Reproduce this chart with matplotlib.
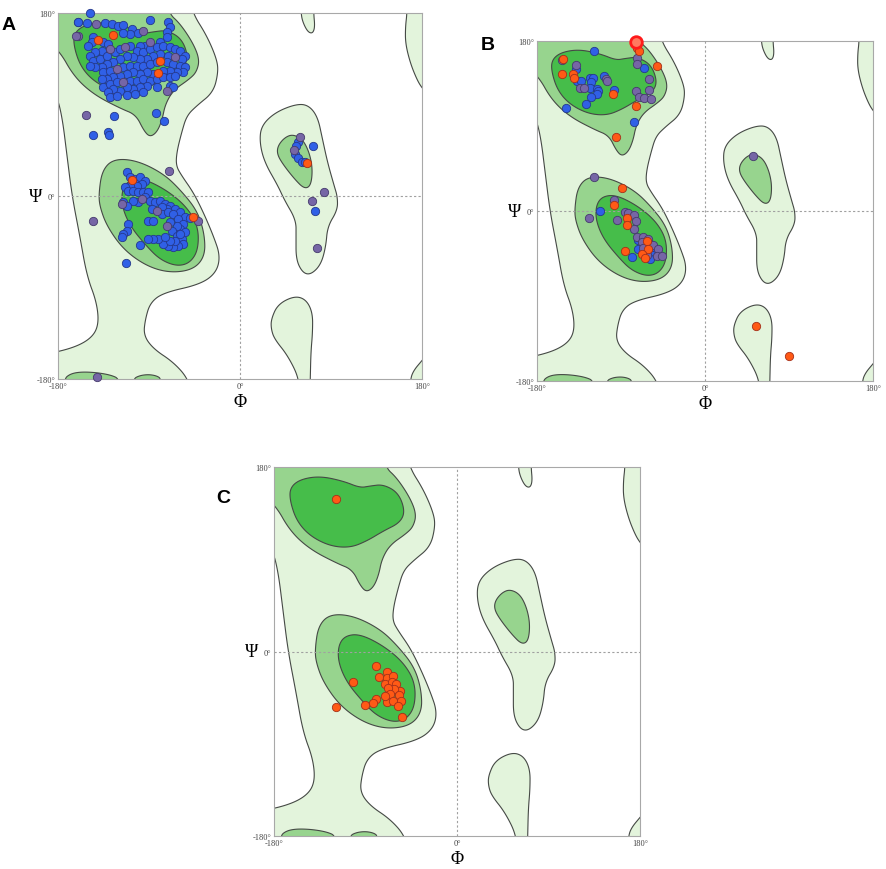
import matplotlib
matplotlib.use("Agg")
import matplotlib.pyplot as plt
import numpy as np
from matplotlib.patches import Polygon

# ---- background regions (phi, psi outlines) ----
LIGHT_MAIN = [(-200, 200), (-50, 200), (-47, 180), (-33, 158), (-23, 134.8), (-21.5, 121.7),
              (-26.4, 102), (-42.8, 88.8), (-52.7, 79), (-57.7, 62.7), (-62.6, 43), (-63.3, 29.8),
              (-57.7, 20), (-46.2, 3.6), (-36.3, -16), (-26.4, -39), (-19.5, -59), (-23.6, -75.6),
              (-39.6, -87), (-75.7, -95.1), (-88.8, -104.9), (-93.7, -121.2), (-95.4, -137),
              (-85.6, -150.4), (-65.9, -163.4), (-51.1, -180), (-47, -200), (-200, -200),
              (-200, -157), (-167.5, -150.4), (-147.8, -140.7), (-139.7, -127.3), (-141.6, -104.9),
              (-151.5, -78.5), (-158.4, -39.8), (-166.2, 0.5), (-171.1, 39.5), (-176, 78.5),
              (-182, 101), (-200, 103)]
LIGHT_LALPHA = [(20.9, 68.8), (34.1, 81.8), (53.8, 90), (66.9, 90), (76.7, 78.5), (81.6, 55.8),
                (86.6, 33), (93.1, 10.2), (96.4, -0.8), (96.4, -13.9), (86.6, -30), (84.9, -49.6),
                (80, -67.5), (70.1, -77.3), (62, -75.6), (55.4, -62.6), (55.4, -39.8), (55.4, -23.6),
                (44, -4.1), (37.4, 10.2), (24.3, 33), (19.4, 52.5)]
LIGHT_BOTTOM = [(30.8, -121.2), (37.4, -106.5), (53.8, -98.3), (65.2, -101.7), (71.8, -114.6),
                (71.8, -134.1), (70.1, -153.7), (69.5, -180), (69, -200), (58, -200), (58.7, -180),
                (47.2, -156.9), (34.1, -140.7), (30.8, -130.9)]
LIGHT_TOP = [(60, 200), (60.3, 180), (62, 171.2), (66.9, 161.5), (71.8, 159.8), (74.1, 166.3),
             (72.8, 180), (73, 200)]
LIGHT_RIGHT = [(165, 200), (165.2, 180), (163.6, 166.3), (163.6, 150), (168.5, 130.5),
               (175.1, 114.3), (180, 106.2), (190, 95), (200, 95), (200, 200)]
LIGHT_CORNER = [(168, -200), (168.5, -180), (171.8, -171.5), (180, -161.8), (190, -150),
                (200, -150), (200, -200)]

MID_BETA = [(-200, 200), (-71, 200), (-70.8, 180), (-59.3, 169.6), (-46.2, 150), (-40, 134),
            (-43, 122), (-50, 115), (-66, 104), (-74, 90), (-77, 75), (-82, 63), (-89, 58),
            (-95, 64), (-103, 80), (-118, 86), (-144.6, 99.7), (-164.3, 117.6),
            (-179, 143.6), (-200, 160)]
MID_ALPHA = [(-139.7, 2.4), (-136.4, 25.2), (-124.9, 36.6), (-102, 35), (-75.7, 22), (-58, 5),
             (-42, -15), (-35, -38), (-34.7, -59.3), (-46.2, -72.4), (-69.1, -75.6),
             (-92.2, -69.1), (-115.1, -52.9), (-131.5, -30), (-138.7, -10.5)]
MID_LALPHA = [(37.4, 49.3), (44, 57.4), (52.1, 60.7), (62, 55.8), (68.6, 42.7), (71.8, 26.5),
              (70.1, 10.2), (63.6, 7), (53.8, 16.8), (42.3, 31.4), (36.7, 41.2)]
MID_STRIP1 = [(-174, -200), (-174, -180), (-168, -175), (-158, -173), (-143, -173.5), (-128, -176),
              (-119, -180), (-119, -200)]
MID_STRIP2 = [(-106, -200), (-106, -180), (-99, -176.5), (-90, -175.5), (-82, -177), (-78, -180),
              (-78, -200)]

DARK_BETA = [(-164.3, 159.8), (-154.4, 168), (-134.8, 171.2), (-111.8, 166.3), (-95.4, 159.8),
             (-85.6, 161.5), (-72.5, 163.1), (-57.7, 154.9), (-51.1, 137.1), (-56.1, 125.7),
             (-72.5, 117.6), (-88.8, 107.8), (-105.2, 101.3), (-124.9, 102.9), (-144.6, 112.7),
             (-157.7, 127.3), (-164.3, 146.8)]
DARK_ALPHA = [(-116.8, 5.7), (-110.2, 15.4), (-95.4, 17.1), (-72.5, 5.7), (-52.8, -10.5),
              (-41.3, -30), (-41.3, -52.9), (-49.5, -65.9), (-62.7, -69.1), (-79, -62.6),
              (-92.2, -49.6), (-108.5, -30), (-116.8, -10.5)]

# ---- residues, panel A (b = blue, p = purple, r = red) ----
a_phi = [-148.3, -159.9, -151.6, -142.4, -133.5, -126.9, -120.3, -115.4, -107.1, -100.5,
         -108.8, -115.4, -125.2, -95.6, -89, -70.8, -69.2, -72.5, -72.5, -79.1,
         -89, -93.9, -98.9, -140.1, -145, -146.7, -150, -159.9, -135.1, -130.2,
         -128.5, -136.8, -143.4, -148.3, -145, -138.4, -131.8, -123.6, -118.7, -113.7,
         -108.8, -102.2, -95.6, -89, -82.4, -75.8, -69.2, -64.3, -59.3, -54.4,
         -57.7, -64.3, -70.8, -79.1, -85.7, -92.3, -98.9, -105.5, -112.1, -118.7,
         -125.2, -131.8, -136.8, -143.4, -148.3, -135.1, -128.5, -122, -115.4, -108.8,
         -102.2, -95.6, -89, -82.4, -79.1, -72.5, -65.9, -59.3, -54.4, -56,
         -62.6, -69.2, -75.8, -80.7, -85.7, -92.3, -98.9, -105.5, -112.1, -118.7,
         -125.2, -131.8, -136.8, -135.1, -128.5, -122, -115.4, -108.8, -102.2, -95.6,
         -89, -82.4, -75.8, -69.2, -64.3, -69.2, -72.5, -65.9, -82.4, -92.3,
         -98.9, -105.5, -112.1, -118.7, -125.2, -130.2, -128.5, -122, -112.1, -103.9,
         -95.6, -160.2, -161.8,
         -152.6, -124.5, -145.3, -130.5, -129.5, -83.2, -75.3,
         -69.8, -145, -112.7, -98.9, -112, -108.7, -107.1, -103.8, -98.9, -93.9,
         -97.2, -102.2, -108.7, -113.7, -110.4, -105.4, -100.5, -95.6, -90.6, -93.9,
         -97.2, -100.5, -105.4, -115.3, -117, -112, -89, -84, -79.1, -74.1,
         -69.2, -64.2, -59.3, -54.3, -49.4, -46.1, -41.2, -72.5, -77.4, -82.4,
         -87.3, -90.6, -85.7, -77.4, -70.8, -65.9, -60.9, -56, -59.3, -62.6,
         -69.2, -72.5, -67.5, -62.6, -57.6, -56, -60.9, -65.9, -70.8, -75.8,
         -80.7, -85.7, -90.6, -110.4, -112, -115.3, -117, -64.2, -69.2, -74.1,
         -54.3, -59.3, -141,
         59.5, 57.2, 55.5, 52.9, 54.5, 57.8, 61.1, 64.4, 66.1, 71.7,
         83.2, 71, 74.3, 76]
a_psi = [180, 171.4, 170.1, 169.1, 170.1, 169.1, 167.5, 168.2, 164.2, 160.3,
         159.3, 160.3, 158.3, 162.6, 173.4, 171.4, 165.9, 160.9, 156, 151.1,
         151.1, 147.8, 147.8, 153.7, 156, 151.1, 147.8, 157, 151.1, 149.5,
         144.6, 142.9, 141.3, 138, 133.1, 134.7, 138, 141.3, 144.6, 146.2,
         147.8, 142.9, 141.3, 144.6, 146.2, 147.8, 146.2, 144.6, 142.9, 138,
         134.7, 136.4, 138, 139.6, 138, 134.7, 134.7, 136.4, 138, 134.7,
         131.4, 129.8, 126.5, 126.5, 128.2, 121.6, 123.2, 124.9, 126.5, 128.2,
         128.2, 128.2, 129.8, 131.4, 133.1, 131.4, 129.8, 128.2, 126.5, 121.6,
         121.6, 123.2, 123.2, 120.9, 120, 121.6, 120, 121.6, 120, 118.3,
         116.7, 115, 115, 106.8, 110.1, 111.8, 111.8, 113.4, 113.4, 115,
         113.4, 115, 116.7, 116.7, 118.3, 108.5, 103.6, 106.8, 106.8, 108.5,
         106.8, 105.2, 106.8, 103.6, 105.2, 101.9, 97, 98, 99.3, 100.3,
         101.9, 171.5, 157.7,
         79.7, 79, 60.3, 62.6, 60.3, 81.6, 74.1,
         24.3, -24.6, -65.9, -48.2, 23.3, 18.4, 16.1, 16.7, 18.4, 15.1,
         11.8, 10.2, 10.2, 8.5, 5.2, 5.2, 4.3, 3.6, 3.6, -1.3,
         -2.9, -6.2, -4.6, -6.2, -7.9, -9.5, -4.6, -6.2, -4.6, -7.9,
         -9.5, -12.8, -16.1, -21, -22, -21, -24.3, -12.8, -11.1, -14.4,
         -12.8, -24.3, -24.3, -17.7, -16.1, -17.7, -22.6, -27.5, -32.5, -29.2,
         -25.9, -29.2, -34.1, -39, -42.3, -47.2, -48.9, -50.5, -48.9, -47.2,
         -42.3, -42.3, -42.3, -27.5, -34.1, -37.4, -40.7, -43.9, -43.9, -40.7,
         -35.8, -37.4, -178.4,
         57.7, 53.4, 49.5, 45.6, 41.3, 37, 33.8, 33.1, 32.1, 48.8,
         3.6, -4.6, -14.4, -51.2]
a_kind = list("bbbpbbbbbb" "bbrpbbbbbb" "pbbrbbbpbb" "pbbbbbbbbp" "bbbbbbbbbb"
              "bpbbbbbbbb" "bbbbbbbpbb" "bbbbrbbbbb" "bbbrbbbbbb" "bbbbbbpbbb"
              "bbbbbbpbbb" "bbbbbbbbbb" "bbp"
              "pbbbbbb"
              "ppbbbbrbbb" "bbbbbbbbbb" "pbbbpbbbbb" "bbbbbrpbbp" "bbbbbbbbbb"
              "bpbbbbbbbb" "bbbbbbbbbb" "bbp"
              "pbbpbbbbrbppbp")

# ---- residues, panel B ----
b_phi = [-73, -70.2, -119.4, -152.2, -153, -152.9, -138, -138, -141.5, -140.8,
         -137.2, -133.7, -130.1, -133, -123, -120, -122, -123.4, -116.2, -114.5,
         -116.2, -122.3, -127.6, -108.7, -106, -104.5, -97, -98.7, -148.6, -73,
         -73, -65.2, -51.7, -59.5, -59.5, -73.8, -71.2, -65.2, -58.1, -74.1,
         -75.6, -95.5, -118.7, -89.1, -97, -98, -112.3, -124.8, -94.5, -85.6,
         -82, -83.8, -76, -73.8, -76, -83.8, -73, -65.9, -60.6,
         -71.3, -67.7, -62.4, -58.8, -55.3, -71.3, -65.9, -60.6, -55.3, -49.9,
         -67.7, -62.4, -57, -51.7, -46.4, -64.2, -58.8, -85.6, -78.4,
         51.7, 54.5, 89.8]
b_psi = [172.6, 169.4, 169.4, 161, 159.5, 145.4, 154.2, 150, 145.4, 140.8,
         137.3, 130.2, 130.2, 137.5, 140.8, 140.8, 136.8, 130.2, 129.5, 126.8,
         123.4, 120.7, 113.7, 142.9, 139.5, 137.8, 128.2, 124.2, 109.1, 162,
         156, 151.8, 153.5, 139.4, 127.8, 126.7, 120.7, 119.7, 118.2, 111.2,
         94.2, 78, 35.7, 24.4, 11.3, 6, -0.3, -7, -9.9, -1,
         -1.7, -7, -4.6, -10.9, -18.7, -15.2, -27.5, -27.5, -29.2,
         -31.1, -32.8, -32.1, -34.6, -36.3, -39.9, -39.2, -39.9, -40.6, -39.9,
         -45.1, -46.2, -46.9, -47.6, -47.6, -49.7, -51.1, -42.7, -48.7,
         58.2, -122.1, -153.1]
b_kind = list("rrbrprpbrr" "bppbbbbbbb" "bbbbppbrbp" "pbrppppppr" "brprprbppp"
              "prppprppp"
              "bprbpbprbp" "rpbpprbrb"
              "prr")
b_ring_phi = [-74.1]
b_ring_psi = [179]

# ---- residues, panel C (all red) ----
c_phi = [-119, -79.7, -102.6, -119, -69.2, -76.4, -68.6, -62.7, -70.8, -64.2,
         -60, -56.1, -62, -67.6, -65.9, -56.8, -69.2, -63.2, -55.4, -57.7,
         -79.7, -82.9, -90.5, -53.8, -70.8]
c_psi = [148.5, -14.4, -30, -54.4, -19.7, -25.2, -26.1, -24.2, -31.7, -30,
         -31.7, -38.2, -36.6, -35.9, -41.5, -42.4, -49, -48, -48, -52.9,
         -46.3, -50.2, -52.2, -64.2, -43.1]

FILL = {"light": "#e3f4dc", "mid": "#97d48e", "dark": "#46bd4a"}
DOT = {"b": ("#3060e6", "#25398c"), "p": ("#7666a6", "#453a6c"), "r": ("#ff5a16", "#a4301a")}


def chaikin(pts, n=4):
    p = np.asarray(pts, float)
    for _ in range(n):
        q = np.roll(p, -1, axis=0)
        p = np.column_stack([0.75 * p + 0.25 * q, 0.25 * p + 0.75 * q]).reshape(-1, 2)
    return p


def draw_background(ax):
    layers = [("light", [LIGHT_MAIN, LIGHT_LALPHA, LIGHT_BOTTOM, LIGHT_TOP, LIGHT_RIGHT, LIGHT_CORNER]),
              ("mid", [MID_BETA, MID_ALPHA, MID_LALPHA, MID_STRIP1, MID_STRIP2]),
              ("dark", [DARK_BETA, DARK_ALPHA])]
    for z, (level, shapes) in enumerate(layers):
        for shape in shapes:
            ax.add_patch(Polygon(chaikin(shape), closed=True, facecolor=FILL[level],
                                 edgecolor="#454945", lw=0.8, zorder=1 + z))
    ax.axhline(0, color="#a0a0a0", lw=0.8, ls=(0, (2, 2)), zorder=4)
    ax.axvline(0, color="#a0a0a0", lw=0.8, ls=(0, (2, 2)), zorder=4)
    ax.set_xlim(-180, 180)
    ax.set_ylim(-180, 180)
    ax.set_xticks([-180, 0, 180])
    ax.set_yticks([-180, 0, 180])
    ax.set_xticklabels(["-180°", "0°", "180°"])
    ax.set_yticklabels(["-180°", "0°", "180°"])
    ax.tick_params(length=0, labelsize=6, labelcolor="#444444", pad=2)
    for lab in ax.get_xticklabels() + ax.get_yticklabels():
        lab.set_family("Liberation Serif")
    for s in ax.spines.values():
        s.set_color("#a8a8a8")
        s.set_linewidth(0.8)
    ax.annotate("Ψ", xy=(0, 0.5), xycoords="axes fraction", xytext=(-16, 0),
                textcoords="offset points", ha="center", va="center", fontsize=13,
                family="Liberation Serif")
    ax.annotate("Φ", xy=(0.5, 0), xycoords="axes fraction", xytext=(0, -16),
                textcoords="offset points", ha="center", va="center", fontsize=13,
                family="Liberation Serif")


def draw_points(ax, phi, psi, kind):
    phi, psi, kind = np.array(phi), np.array(psi), np.array(kind)
    for k in ["b", "p", "r"]:
        m = kind == k
        if m.any():
            ax.scatter(phi[m], psi[m], s=36, c=DOT[k][0], edgecolors=DOT[k][1],
                       linewidths=0.6, zorder=6, clip_on=False)


fig = plt.figure(figsize=(8.86, 8.70), dpi=100)
ax_a = fig.add_axes([0.0655, 0.5632, 0.4108, 0.4207])
ax_b = fig.add_axes([0.6061, 0.5609, 0.3792, 0.3908])
ax_c = fig.add_axes([0.3093, 0.0379, 0.4131, 0.4241])

for ax in (ax_a, ax_b, ax_c):
    draw_background(ax)

draw_points(ax_a, a_phi, a_psi, a_kind)
draw_points(ax_b, b_phi, b_psi, b_kind)
ax_b.scatter(b_ring_phi, b_ring_psi, s=70, c="#ff7a60", edgecolors="#ff1a1a", linewidths=2,
             zorder=7, clip_on=False)
draw_points(ax_c, c_phi, c_psi, ["r"] * len(c_phi))

fig.text(2 / 886, 1 - 30 / 870, "A", fontsize=14, fontweight="bold", family="Liberation Sans")
fig.text(481 / 886, 1 - 50 / 870, "B", fontsize=14, fontweight="bold", family="Liberation Sans")
fig.text(216 / 886, 1 - 503 / 870, "C", fontsize=14, fontweight="bold", family="Liberation Sans")

fig.savefig("out.png", dpi=100)
